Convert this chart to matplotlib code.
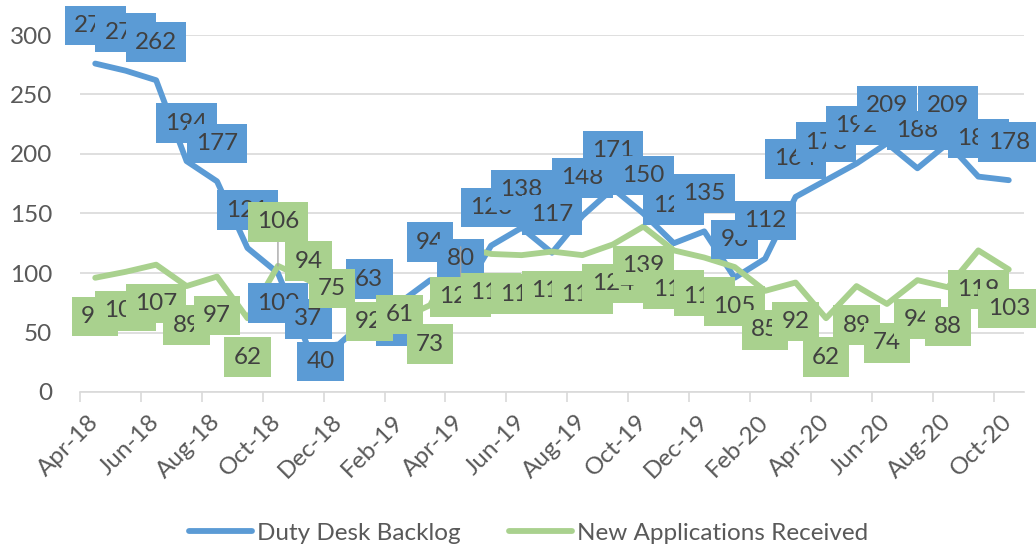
import matplotlib.pyplot as plt
import numpy as np
import pandas as pd

# data
months = list(pd.date_range("2018-04-01", periods=31, freq="MS").strftime("%b-%y"))
backlog = [276, 270, 262, 194, 177, 121, 100, 37, 40, 63, 75, 94, 80, 123, 138, 117,
           148, 171, 150, 125, 135, 96, 112, 164, 178, 192, 209, 188, 209, 181, 178]
new_apps = [96, 101, 107, 89, 97, 62, 106, 94, 75, 92, 61, 73, 122, 116, 115, 118,
            115, 124, 139, 119, 113, 105, 85, 92, 62, 89, 74, 94, 88, 119, 103]

BLUE = "#5B9BD5"
GREEN = "#A9D18E"
GRID = "#D9D9D9"
TXT = "#404040"
FS = 17.5

plt.rcParams["font.family"] = ["Lato", "DejaVu Sans"]

fig = plt.figure(figsize=(10.36, 5.5), dpi=100)
ax = fig.add_axes([80 / 1036, 1 - 392 / 550, 944 / 1036, 357 / 550])

x = np.arange(len(months))
ax.plot(x, backlog, color=BLUE, lw=4.2, solid_capstyle="round",
        solid_joinstyle="round", zorder=2, label="Duty Desk Backlog")
ax.plot(x, new_apps, color=GREEN, lw=4.2, solid_capstyle="round",
        solid_joinstyle="round", zorder=2.1, label="New Applications Received")

ax.set_xlim(-0.5, len(months) - 0.5)
ax.set_ylim(0, 300)
ax.set_yticks(np.arange(0, 301, 50))
ax.grid(axis="y", color=GRID, lw=1.2)
ax.set_axisbelow(True)
for s in ["left", "right", "top"]:
    ax.spines[s].set_visible(False)
ax.spines["bottom"].set_color(GRID)
ax.spines["bottom"].set_linewidth(1.2)
ax.tick_params(axis="y", length=0, pad=20, labelsize=FS, labelcolor="#595959")

# ticks between categories, labels on every second month
ax.set_xticks(np.arange(-0.5, len(months) - 1, 2))
ax.set_xticklabels([])
ax.tick_params(axis="x", which="major", length=7, color=GRID, width=1.2)
ax.set_xticks(x[::2], minor=True)
ax.set_xticklabels(months[::2], minor=True, rotation=45, ha="right",
                   va="center", rotation_mode="anchor")
ax.tick_params(axis="x", which="minor", length=0, pad=19, labelsize=FS,
               labelcolor="#595959")

# data label offsets in pixels (dx, dy)
blue_off = {6: (0, -30), 7: (0, 29), 8: (-18, -17), 10: (0, -24)}
green_off = {6: (0, 44), 7: (0, 19), 8: (-7, 14), 10: (0, 5), 12: (0, -50)}
leaders = {6, 12}

for i, v in enumerate(backlog):
    dx, dy = blue_off.get(i, (0, 38))
    ax.annotate(str(v), (i, v), xytext=(dx, dy), textcoords="offset pixels",
                ha="center", va="center", fontsize=FS, color=TXT, zorder=3,
                annotation_clip=False,
                bbox=dict(boxstyle="square,pad=0.38", fc=BLUE, ec="none"))

for i, v in enumerate(new_apps):
    dx, dy = green_off.get(i, (0, -39))
    arrow = None
    if i in leaders:
        arrow = dict(arrowstyle="-", color="#A6A6A6", lw=1, shrinkA=0, shrinkB=0)
    ax.annotate(str(v), (i, v), xytext=(dx, dy), textcoords="offset pixels",
                ha="center", va="center", fontsize=FS, color=TXT, zorder=4,
                annotation_clip=False, arrowprops=arrow,
                bbox=dict(boxstyle="square,pad=0.38", fc=GREEN, ec="none"))

fig.legend(loc="center", bbox_to_anchor=(0.51, 1 - 533 / 550), ncol=2,
           frameon=False, fontsize=FS, handlelength=2.6, handletextpad=0.2,
           columnspacing=2.0, labelcolor="#595959")

fig.savefig("out.png", dpi=100)
